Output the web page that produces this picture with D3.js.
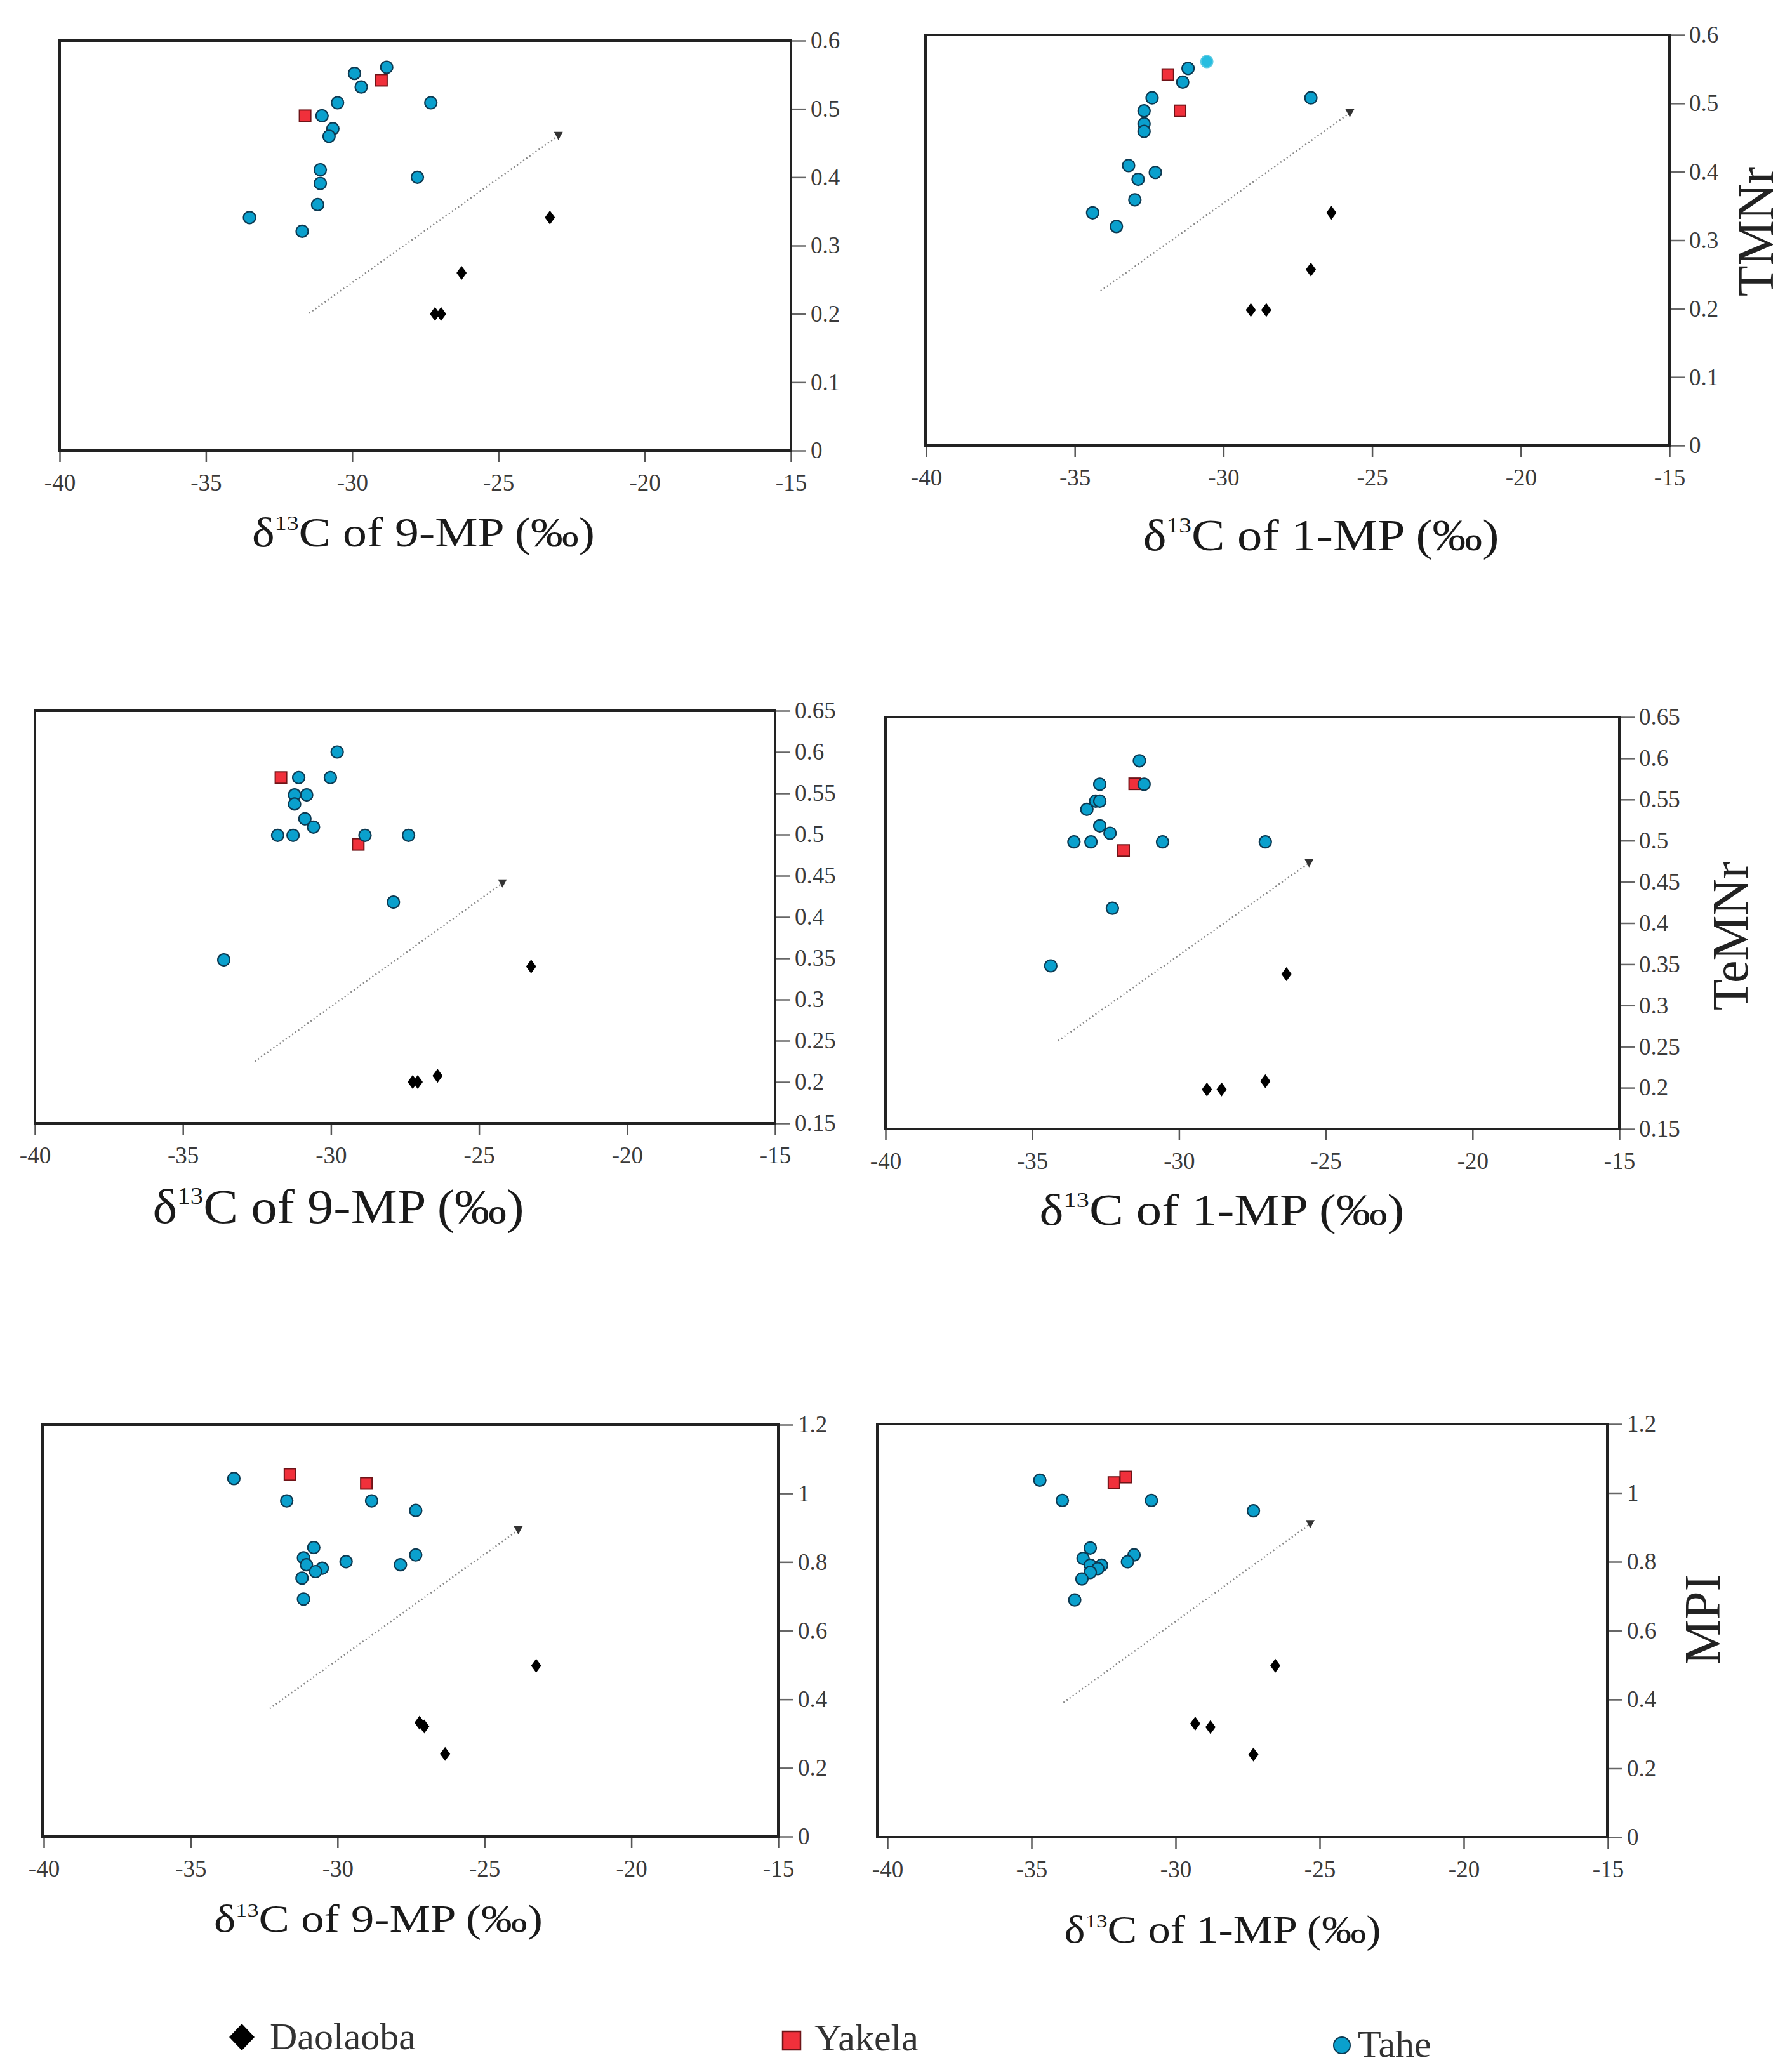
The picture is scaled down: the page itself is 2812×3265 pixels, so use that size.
<!DOCTYPE html>
<html><head><meta charset="utf-8">
<script src="https://cdnjs.cloudflare.com/ajax/libs/d3/7.8.5/d3.min.js"></script>
<style>html,body{margin:0;padding:0;background:#fff;} svg{display:block;font-family:'Liberation Serif','Times New Roman',Times,serif;}</style>
</head><body>
<svg id="chart" width="2812" height="3265"></svg>
<script>
// ---------------- DATA ----------------
const xTicks = [-40, -35, -30, -25, -20, -15];
const yTicksTMNr = [0, 0.1, 0.2, 0.3, 0.4, 0.5, 0.6];
const yTicksTeMNr = [0.15, 0.2, 0.25, 0.3, 0.35, 0.4, 0.45, 0.5, 0.55, 0.6, 0.65];
const yTicksMPI = [0, 0.2, 0.4, 0.6, 0.8, 1, 1.2];
const legendNames = ["Daolaoba", "Yakela", "Tahe"];
const yNames = ["TMNr", "TeMNr", "MPI"];
const xNames = ["9-MP", "1-MP"];

// Panel 1: TMNr vs d13C 9-MP
const p1Daolaoba = [[-23.24,0.341],[-26.26,0.260],[-27.17,0.200],[-26.96,0.200]];
const p1Yakela = [[-29.0,0.542],[-31.61,0.490]];
const p1Tahe = [[-28.82,0.561],[-29.92,0.552],[-29.69,0.532],[-30.50,0.509],[-27.31,0.509],[-31.03,0.490],[-30.66,0.471],[-30.79,0.460],[-31.09,0.411],[-27.77,0.400],[-31.09,0.391],[-31.18,0.360],[-33.51,0.341],[-31.71,0.321]];
const p1TaheLight = [];
const p1Arrow = [[-31.47,0.201],[-22.95,0.461]];

// Panel 2: TMNr vs d13C 1-MP
const p2Daolaoba = [[-26.37,0.340],[-27.06,0.257],[-29.08,0.198],[-28.56,0.198]];
const p2Yakela = [[-31.87,0.542],[-31.46,0.489]];
const p2Tahe = [[-31.19,0.551],[-31.37,0.531],[-32.40,0.508],[-27.06,0.508],[-32.67,0.489],[-32.67,0.470],[-32.67,0.459],[-33.19,0.409],[-32.29,0.399],[-32.87,0.389],[-32.98,0.359],[-34.40,0.340],[-33.60,0.320]];
const p2TaheLight = [[-30.56,0.561]];
const p2Arrow = [[-34.13,0.226],[-25.75,0.486]];

// Panel 3: TeMNr vs d13C 9-MP
const p3Daolaoba = [[-23.24,0.340],[-26.40,0.2075],[-27.24,0.200],[-27.07,0.200]];
const p3Yakela = [[-31.69,0.569],[-29.08,0.488]];
const p3Tahe = [[-29.79,0.600],[-31.09,0.569],[-30.02,0.569],[-31.23,0.548],[-30.82,0.548],[-31.23,0.537],[-30.88,0.519],[-30.59,0.509],[-31.80,0.499],[-31.28,0.499],[-28.85,0.499],[-27.38,0.499],[-27.89,0.418],[-33.62,0.348]];
const p3TaheLight = [];
const p3Arrow = [[-32.57,0.225],[-24.21,0.441]];

// Panel 4: TeMNr vs d13C 1-MP
const p4Daolaoba = [[-26.34,0.338],[-27.06,0.208],[-29.05,0.198],[-28.55,0.198]];
const p4Yakela = [[-31.51,0.569],[-31.89,0.488]];
const p4Tahe = [[-31.35,0.597],[-32.70,0.5685],[-31.19,0.5685],[-32.84,0.548],[-32.70,0.548],[-33.14,0.538],[-32.70,0.518],[-32.35,0.509],[-33.58,0.4985],[-33.0,0.4985],[-30.56,0.4985],[-27.06,0.4985],[-32.27,0.418],[-34.37,0.348]];
const p4TaheLight = [];
const p4Arrow = [[-34.12,0.257],[-25.57,0.473]];

// Panel 5: MPI vs d13C 9-MP
const p5Daolaoba = [[-23.24,0.498],[-27.21,0.332],[-27.05,0.321],[-26.34,0.241]];
const p5Yakela = [[-31.62,1.055],[-29.02,1.029]];
const p5Tahe = [[-33.53,1.043],[-31.73,0.978],[-28.84,0.978],[-27.34,0.950],[-30.81,0.842],[-31.16,0.812],[-27.34,0.8205],[-29.71,0.801],[-31.06,0.792],[-27.86,0.792],[-30.52,0.782],[-30.75,0.772],[-31.21,0.753],[-31.16,0.692]];
const p5TaheLight = [];
const p5Arrow = [[-32.31,0.373],[-23.85,0.893]];

// Panel 6: MPI vs d13C 1-MP
const p6Daolaoba = [[-26.54,0.498],[-29.32,0.330],[-28.79,0.320],[-27.30,0.240]];
const p6Yakela = [[-32.14,1.030],[-31.73,1.046]];
const p6Tahe = [[-34.71,1.037],[-33.93,0.978],[-30.84,0.978],[-27.30,0.948],[-32.96,0.840],[-31.44,0.820],[-33.21,0.810],[-31.67,0.800],[-32.96,0.790],[-32.57,0.790],[-32.70,0.780],[-32.96,0.769],[-33.25,0.750],[-33.50,0.689]];
const p6TaheLight = [];
const p6Arrow = [[-33.89,0.391],[-25.33,0.910]];

// ---------------- LAYOUT / STYLE ----------------
const FONT = "'Liberation Serif','Times New Roman',Times,serif";
const COL = {
  D: "#000000",
  Yfill: "#f0303b", Ystroke: "#6e1418",
  Tfill: "#0aa0cd", Tstroke: "#0d3a52",
  TLfill: "#27bde0", TLstroke: "#5ccbe3"
};

const panels = [
  {frame:[94,1246,64,710],   xr:[94,1246],   yDomain:[0,0.6],     yTicks:yTicksTMNr,  xName:xNames[0], lab:{cx:667, by:861, fs:65, w:540}, ylab:null,
   D:p1Daolaoba, Y:p1Yakela, T:p1Tahe, TL:p1TaheLight, arrow:p1Arrow},
  {frame:[1458,2630,55,702], xr:[1459,2630], yDomain:[0,0.6],     yTicks:yTicksTMNr,  xName:xNames[1], lab:{cx:2081, by:867, fs:69, w:561}, ylab:{text:yNames[0], x:2793, y:365},
   D:p2Daolaoba, Y:p2Yakela, T:p2Tahe, TL:p2TaheLight, arrow:p2Arrow},
  {frame:[55,1221,1120,1770], xr:[55,1221], yDomain:[0.15,0.65], yTicks:yTicksTeMNr, xName:xNames[0], lab:{cx:533, by:1927, fs:76, w:585}, ylab:null,
   D:p3Daolaoba, Y:p3Yakela, T:p3Tahe, TL:p3TaheLight, arrow:p3Arrow},
  {frame:[1395,2551,1130,1779], xr:[1395,2551], yDomain:[0.15,0.65], yTicks:yTicksTeMNr, xName:xNames[1], lab:{cx:1925, by:1930, fs:69, w:575}, ylab:{text:yNames[1], x:2753, y:1475},
   D:p4Daolaoba, Y:p4Yakela, T:p4Tahe, TL:p4TaheLight, arrow:p4Arrow},
  {frame:[67,1226,2245,2894], xr:[69,1226], yDomain:[0,1.2],    yTicks:yTicksMPI,   xName:xNames[0], lab:{cx:596, by:3044, fs:61, w:518}, ylab:null,
   D:p5Daolaoba, Y:p5Yakela, T:p5Tahe, TL:p5TaheLight, arrow:p5Arrow},
  {frame:[1382,2532,2244,2895], xr:[1398,2533], yDomain:[0,1.2],  yTicks:yTicksMPI,   xName:xNames[1], lab:{cx:1926, by:3061, fs:61, w:499}, ylab:{text:yNames[2], x:2709, y:2552},
   D:p6Daolaoba, Y:p6Yakela, T:p6Tahe, TL:p6TaheLight, arrow:p6Arrow}
];

const svg = d3.select("#chart");
svg.append("rect").attr("width",2812).attr("height",3265).attr("fill","#fff");

const diamond = (w,h) => `M0,${-h/2}L${w/2},0L0,${h/2}L${-w/2},0Z`;
const fmt = d => String(d);

panels.forEach(p => {
  const [L,R,T,B] = p.frame;
  const x = d3.scaleLinear().domain([-40,-15]).range(p.xr);
  const y = d3.scaleLinear().domain(p.yDomain).range([B,T]);
  const g = svg.append("g");

  // x axis
  const gx = g.append("g").attr("transform",`translate(0,${B})`)
    .call(d3.axisBottom(x).tickValues(xTicks).tickSize(18).tickPadding(19).tickFormat(fmt));
  gx.select(".domain").remove();
  gx.attr("font-family",FONT);
  gx.selectAll(".tick line").attr("stroke","#555").attr("stroke-width",2.5);
  gx.selectAll(".tick text").attr("font-family",FONT).attr("font-size",37).attr("fill","#3a3a3a");

  // y axis (right)
  const gy = g.append("g").attr("transform",`translate(${R},0)`)
    .call(d3.axisRight(y).tickValues(p.yTicks).tickSize(24).tickPadding(7).tickFormat(fmt));
  gy.select(".domain").remove();
  gy.attr("font-family",FONT);
  gy.selectAll(".tick line").attr("stroke","#666").attr("stroke-width",2.5);
  gy.selectAll(".tick text").attr("font-family",FONT).attr("font-size",37).attr("fill","#3a3a3a");

  // frame
  g.append("rect").attr("x",L).attr("y",T).attr("width",R-L).attr("height",B-T)
    .attr("fill","none").attr("stroke","#222").attr("stroke-width",4);

  // trend arrow
  const a = p.arrow;
  g.append("line").attr("x1",x(a[0][0])).attr("y1",y(a[0][1])).attr("x2",x(a[1][0])).attr("y2",y(a[1][1]))
    .attr("stroke","#888").attr("stroke-width",2.5).attr("stroke-dasharray","2,4");
  g.append("path").attr("d","M-7,-6L7,-6L0,7Z").attr("fill","#333")
    .attr("transform",`translate(${x(a[1][0])},${y(a[1][1])})`);

  // Daolaoba diamonds
  g.selectAll(null).data(p.D).enter().append("path")
    .attr("d",diamond(16,22)).attr("fill",COL.D)
    .attr("transform",d=>`translate(${x(d[0])},${y(d[1])})`);
  // Yakela squares
  g.selectAll(null).data(p.Y).enter().append("rect")
    .attr("x",d=>x(d[0])-9).attr("y",d=>y(d[1])-9).attr("width",18).attr("height",18)
    .attr("fill",COL.Yfill).attr("stroke",COL.Ystroke).attr("stroke-width",2);
  // Tahe circles
  g.selectAll(null).data(p.T).enter().append("circle")
    .attr("cx",d=>x(d[0])).attr("cy",d=>y(d[1])).attr("r",9.5)
    .attr("fill",COL.Tfill).attr("stroke",COL.Tstroke).attr("stroke-width",2.2);
  g.selectAll(null).data(p.TL).enter().append("circle")
    .attr("cx",d=>x(d[0])).attr("cy",d=>y(d[1])).attr("r",9.5)
    .attr("fill",COL.TLfill).attr("stroke",COL.TLstroke).attr("stroke-width",2);

  // x-axis title
  const lab = p.lab;
  const t = g.append("text").attr("font-family",FONT).attr("font-size",lab.fs)
    .attr("fill","#1a1a1a").attr("text-anchor","middle");
  t.append("tspan").text("δ");
  t.append("tspan").attr("font-size",lab.fs*0.5).attr("dy",-lab.fs*0.4).text("13");
  t.append("tspan").attr("dy",lab.fs*0.4).text("C of " + p.xName + " (‰)");
  const bw = t.node().getBBox().width;
  t.attr("transform",`translate(${lab.cx},${lab.by}) scale(${lab.w/bw},1)`);

  // y-axis title
  if (p.ylab) {
    g.append("text").attr("font-family",FONT).attr("font-size",80).attr("fill","#222")
      .attr("text-anchor","middle")
      .attr("transform",`translate(${p.ylab.x},${p.ylab.y}) rotate(-90)`)
      .text(p.ylab.text);
  }
});

// ---------------- LEGEND ----------------
const lg = svg.append("g");
lg.append("path").attr("d",diamond(40,42)).attr("fill",COL.D).attr("transform","translate(381,3210)");
lg.append("text").attr("x",425).attr("y",3229).text(legendNames[0]);
lg.append("rect").attr("x",1233).attr("y",3201).attr("width",28).attr("height",29)
  .attr("fill",COL.Yfill).attr("stroke",COL.Ystroke).attr("stroke-width",2.5);
lg.append("text").attr("x",1283).attr("y",3231).text(legendNames[1]);
lg.append("circle").attr("cx",2114).attr("cy",3223).attr("r",13)
  .attr("fill",COL.Tfill).attr("stroke",COL.Tstroke).attr("stroke-width",2);
lg.append("text").attr("x",2139).attr("y",3241).text(legendNames[2]);
lg.selectAll("text").attr("font-family",FONT).attr("font-size",60).attr("fill","#333");
</script>
</body></html>
